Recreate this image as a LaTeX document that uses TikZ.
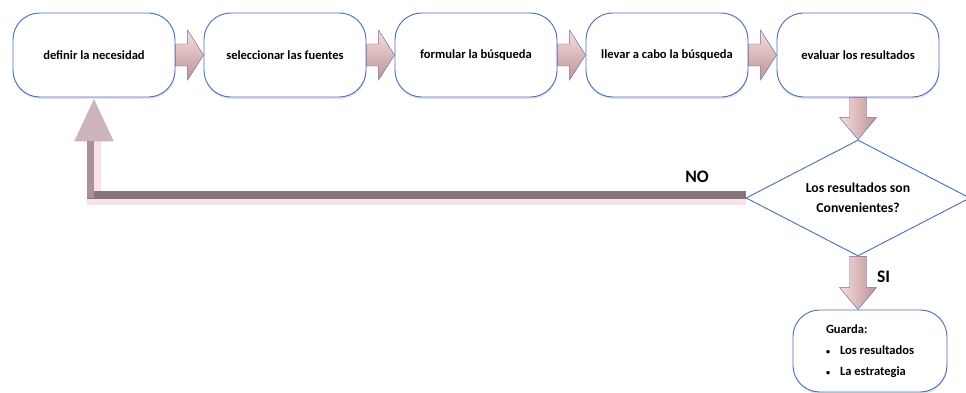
\documentclass[tikz,border=0pt]{standalone}
\usepackage{fontspec}
\setmainfont{Carlito}
\usetikzlibrary{shapes.geometric}
\usetikzlibrary{shadows}
\usetikzlibrary{calc}
\usetikzlibrary{arrows.meta}
\definecolor{bordeazul}{RGB}{79,114,190}
\definecolor{rosaclaro}{RGB}{246,222,221}
\definecolor{rosaoscuro}{RGB}{190,146,149}
\definecolor{bordeflecha}{RGB}{105,105,160}
\definecolor{malva}{RGB}{136,118,124}
\definecolor{malvaclaro}{RGB}{166,146,152}
\definecolor{puntamalva}{RGB}{204,180,186}
\definecolor{sombrarosa}{RGB}{250,227,230}
\tikzstyle{paso}=[rectangle,rounded corners=0.8cm,draw=bordeazul,line width=0.8pt,fill=white,minimum width=4.86cm,minimum height=2.52cm,align=center,font=\fontsize{10.7}{13}\selectfont\bfseries,drop shadow={shadow xshift=0.3pt,shadow yshift=-1.8pt,opacity=0.2}]
\tikzstyle{decision}=[diamond,draw=bordeazul,line width=0.8pt,fill=white,minimum width=6.72cm,minimum height=3.48cm,aspect=2,inner sep=0pt,align=center,font=\fontsize{11.7}{17}\selectfont\bfseries]
\tikzstyle{etiqueta}=[font=\fontsize{15}{18}\selectfont\bfseries]
\tikzstyle{retorno}=[draw=sombrarosa,line width=0.42cm,-{Triangle[width=1.08cm,length=1.32cm,color=puntamalva]}]
\tikzstyle{bordesup}=[draw=malva,line width=0.24cm]
\tikzstyle{bisel}=[draw=malvaclaro,line width=0.2cm]
\tikzset{
  bloque/.style args={#1/#2/#3}{draw=bordeflecha,line width=0.4pt,
    to path={($(\tikztostart)!#1!90:(\tikztotarget)$)
      -- ($($(\tikztotarget)!#3!(\tikztostart)$)!#1!90:(\tikztotarget)$)
      -- ($($(\tikztotarget)!#3!(\tikztostart)$)!#2!90:(\tikztotarget)$)
      -- (\tikztotarget)
      -- ($($(\tikztotarget)!#3!(\tikztostart)$)!#2!-90:(\tikztotarget)$)
      -- ($($(\tikztotarget)!#3!(\tikztostart)$)!#1!-90:(\tikztotarget)$)
      -- ($(\tikztostart)!#1!-90:(\tikztotarget)$) -- cycle}},
  harrow/.style={bloque=0.33cm/0.75cm/0.48cm,top color=rosaclaro,bottom color=rosaoscuro},
  varrow/.style={bloque=0.255cm/0.555cm/0.66cm,left color=rosaclaro,right color=rosaoscuro}
}

\begin{document}
\begin{tikzpicture}[x=0.03cm,y=-0.03cm]
    \useasboundingbox (0,0) rectangle (966,393);

    \foreach \pos/\name/\texto in {{(94,55)/def/definir la necesidad}, {(285,55)/sel/seleccionar las fuentes}, {(476,55)/form/formular la búsqueda}, {(667,55)/llevar/llevar a cabo la búsqueda}, {(858,55)/eval/evaluar los resultados}}
        \node[paso] (\name) at \pos {\texto};

    \node[decision] (dec) at (858,198) {Los resultados son\\Convenientes?};

    \node[paso,minimum width=4.62cm,minimum height=2.46cm,align=left,font=\fontsize{10.7}{18}\selectfont\bfseries] (guarda) at (870,351)
        {Guarda:\\\makebox[0.42cm][l]{\fontsize{7}{7}\selectfont•}Los resultados\\\makebox[0.42cm][l]{\fontsize{7}{7}\selectfont•}La estrategia};

    \foreach \source/\dest in {def/sel, sel/form, form/llevar, llevar/eval}
        \path[harrow] (\source.east) to (\dest.west);

    \path[varrow] (eval.south) to (dec.north);
    \path[varrow] (dec.south) to (dec.south |- guarda.north);

    % vuelta a definir la necesidad
    \draw[retorno] (dec.west) -| (def.south);
    \draw[bordesup,shorten >=-0.21cm,transform canvas={shift={(0,0.105cm)}}] (dec.west) -- (dec.west -| def.south);
    \draw[bisel,shorten >=1.3cm,transform canvas={shift={(-0.11cm,0)}}] (dec.west -| def.south) -- (def.south);

    \node[etiqueta] (no) at (697,177) {NO};
    \node[etiqueta,anchor=west] (si) at (873,277) {SI};
\end{tikzpicture}
\end{document}
